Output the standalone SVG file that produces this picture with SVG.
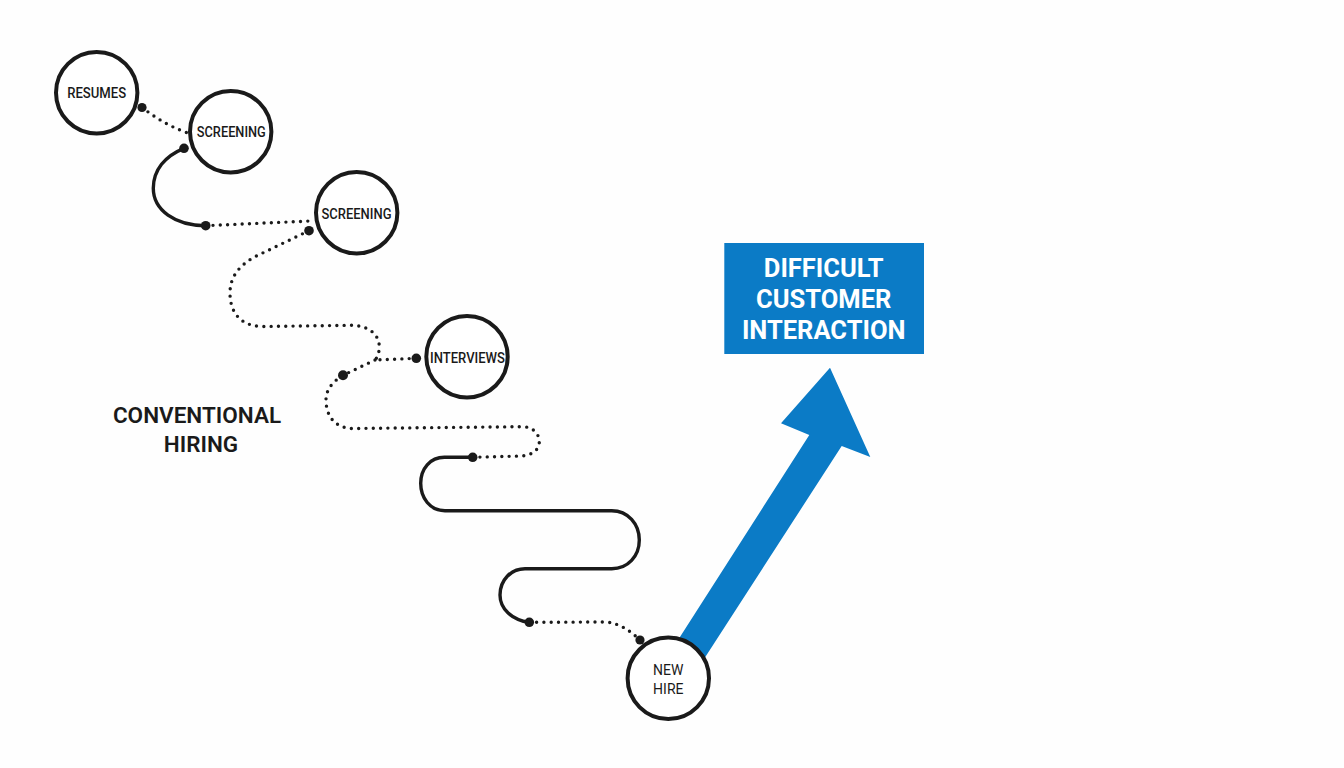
<svg xmlns="http://www.w3.org/2000/svg" width="1344" height="768" viewBox="0 0 1344 768">
<style>
text{font-family:Roboto,"Liberation Sans",sans-serif;text-anchor:middle}
.n{fill:#fff;stroke:#1a1a1a;stroke-width:4}
.l{font-size:14px;font-weight:500;fill:#1a1a1a}
.s{fill:none;stroke:#1a1a1a;stroke-width:3.4;stroke-linecap:round}
.d{fill:none;stroke:#1a1a1a;stroke-width:3.4;stroke-linecap:round;stroke-dasharray:0 7.3}
.p{fill:#1a1a1a}
.b{fill:#0b7bc6}
</style>
<rect width="1344" height="768" fill="#fefefe"/>
<g id="arrow"><polygon class="b" points="830,367.7 870.3,457 841.7,446 693,676 666.5,658 809.3,435 781,423.3"/></g>
<g id="connectors">
<path class="d" d="M142,107.5C156,118 170,127 188,133"/>
<path class="s" d="M184,148.3C165,156 153.3,170 153.3,188.3C153.3,210 175,225.7 205.7,225.7"/>
<path class="d" d="M205.7,225.7L310,221"/>
<path class="d" d="M309,230.7L255,256.7C238,266 230,278 230,293C230,312 240,326 262,326.5L350,325.3C368,325 379.3,334 379.3,347C379.3,353 377,358 375,360L416.3,358.3"/>
<path class="d" d="M375,360L343,375.3C332,382 326,390 326,400C326,416 335,428 352,428.5L522,426.7C533,426.5 539.3,434 539.3,441.7C539.3,450 532,455 522,456L472.7,457.3"/>
<path class="s" d="M472.7,457.3H445C430,457 420.7,469 420.7,483.3C420.7,498 430,510.7 445,510.7H611.7C628,510.7 639.3,524 639.3,540C639.3,556 628,568.7 611.7,568.7H525C511,568.7 500,580 500,595C500,609 512,620 529.3,622.3"/>
<path class="d" d="M529.3,622.3L605,622C620,623 630,631 640,640"/>
<circle class="p" cx="142" cy="107.5" r="4.6"/>
<circle class="p" cx="184" cy="148.3" r="4.8"/>
<circle class="p" cx="205.7" cy="225.7" r="4.8"/>
<circle class="p" cx="309" cy="230.7" r="4.8"/>
<circle class="p" cx="416.3" cy="358.3" r="4.8"/>
<circle class="p" cx="343" cy="375.3" r="5"/>
<circle class="p" cx="472.7" cy="457.3" r="4.8"/>
<circle class="p" cx="529.3" cy="622.3" r="4.8"/>
<circle class="p" cx="640" cy="640" r="4.6"/>
</g>
<g id="resumes"><circle class="n" cx="96.7" cy="92.7" r="40.7"/><text class="l" x="96.7" y="98" textLength="59" lengthAdjust="spacingAndGlyphs">RESUMES</text></g>
<g id="screening1"><circle class="n" cx="230.7" cy="131.7" r="40.7"/><text class="l" x="231.3" y="137" textLength="69" lengthAdjust="spacingAndGlyphs">SCREENING</text></g>
<g id="screening2"><circle class="n" cx="356.7" cy="212.7" r="40.7"/><text class="l" x="356.5" y="218.5" textLength="70" lengthAdjust="spacingAndGlyphs">SCREENING</text></g>
<g id="interviews"><circle class="n" cx="467" cy="356.7" r="40.7"/><text class="l" x="467.5" y="362.5" textLength="75" lengthAdjust="spacingAndGlyphs">INTERVIEWS</text></g>
<g id="newhire"><circle class="n" cx="668.3" cy="678.3" r="40.7"/><text class="l" font-weight="400" style="font-weight:400"><tspan x="668.3" y="675">NEW</tspan><tspan x="668.3" y="693.5">HIRE</tspan></text></g>
<g id="title"><text font-size="22.5" font-weight="600" fill="#1a1a1a"><tspan x="197" y="423">CONVENTIONAL</tspan><tspan x="201" y="452">HIRING</tspan></text></g>
<g id="box"><rect class="b" x="724.3" y="243" width="199.7" height="111"/><text font-size="25.5" font-weight="700" fill="#fff"><tspan x="823.7" y="276.5">DIFFICULT</tspan><tspan x="823.7" y="307.5">CUSTOMER</tspan><tspan x="823.7" y="338.5">INTERACTION</tspan></text></g>
</svg>
